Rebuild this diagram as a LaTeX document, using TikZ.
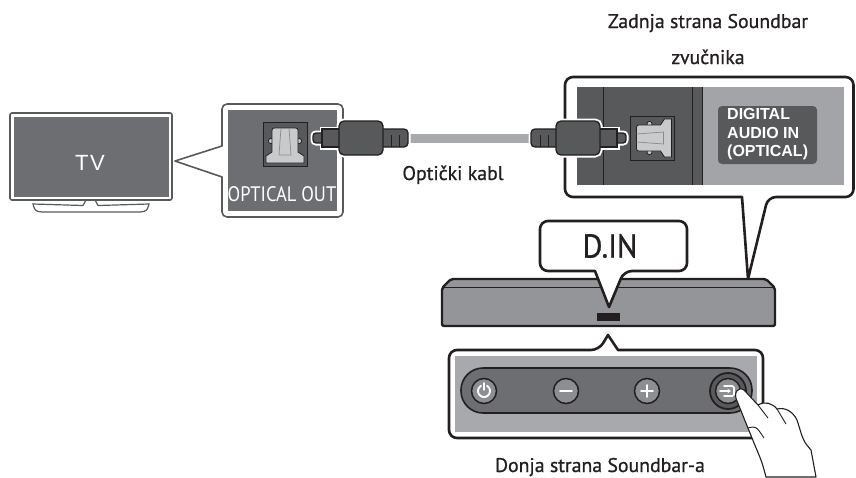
\documentclass[tikz,border=0pt]{standalone}
\usepackage{fontspec}
\setmainfont{PT Sans}
\newfontfamily\capfont{PT Sans}[FakeBold=0.8]
\newfontfamily\dinfont{PT Sans}[FakeBold=1.0, FakeStretch=0.92]
\newfontfamily\arialfont{Liberation Sans}
\newfontfamily\narrowfont{PT Sans}[FakeStretch=0.88]
\usetikzlibrary{calc,arrows.meta}

\definecolor{ink}{HTML}{231F20}
\definecolor{screengrey}{HTML}{6D6E71}
\definecolor{darkgrey}{HTML}{58595B}
\definecolor{bargrey}{HTML}{939598}
\definecolor{lightgrey}{HTML}{A7A9AC}
\definecolor{panelgrey}{HTML}{A2A4A7}
\definecolor{btngrey}{HTML}{8C8E91}
\definecolor{portlight}{HTML}{C9CACC}

% parts of an optical plug, nub at the origin, cable leaving to the right
\newcommand\plugparts[1]{%
  \path[#1, rounded corners=3pt] (0,-5) rectangle (12,5);
  \path[#1] (9,-9) rectangle (27,9);
  \path[#1, rounded corners=4pt] (60,-9) rectangle (95,9);
  \path[#1, rounded corners=5pt] (26,-17) rectangle (70,17);
}

\tikzset{
  callout/.style={draw=ink, line width=2.6pt, fill=white, line join=round},
  thincallout/.style={draw=darkgrey, line width=1.6pt, fill=white, line join=round},
  caption/.style={text=ink, font=\capfont\fontsize{19.8}{24}\selectfont, inner sep=0pt, anchor=base},
  cable/.style={draw=lightgrey, line width=9pt},
  button/.style={fill=btngrey, draw=ink, line width=1.5pt},
  icon/.style={draw=white, line width=1.9pt, line cap=round},
  pics/plug/.style={code={
    \plugparts{draw=white, line width=5pt}
    \plugparts{fill=darkgrey, draw=ink, line width=1.3pt}
    \draw[ink, line width=1pt] (78,-3) -- (78,9) (86,-3) -- (86,9);
  }},
  pics/port/.style={code={
    \filldraw[fill=darkgrey, draw=ink, line width=1pt] (-22,-22) rectangle (22,22);
    \filldraw[fill=portlight, draw=ink, line width=0.8pt]
      (-14,-3) circle (2.6) (14,-3) circle (2.6);
    \filldraw[fill=portlight, draw=ink, line width=0.8pt]
      (-19,19) -- (-19,12) -- (-13,8) -- (-13,-11)
      .. controls (-13,-16) .. (-8,-16) -- (8,-16)
      .. controls (13,-16) .. (13,-11) -- (13,8) -- (19,12) -- (19,19) -- cycle;
    \draw[darkgrey!70, line width=0.7pt] (-4,-16) -- (-6,11) -- (6,11) -- (4,-16);
  }}
}

\begin{document}
\begin{tikzpicture}[x=1pt,y=-1pt]
\useasboundingbox (0,0) rectangle (856,477);

% ---------------- TV ----------------
\draw[darkgrey, line width=1.2pt, fill=white]
  (33,204) .. controls (35,211) .. (42,212) -- (140,212)
  .. controls (147,211) .. (149,204) -- (98,205.5) -- (95,200) -- (86,200) -- (83,205.5) -- cycle;
\draw[draw=darkgrey, line width=1.6pt, fill=white, rounded corners=2pt] (10,113) rectangle (172,200);
\fill[screengrey] (13.5,116.5) rectangle (168.5,196.5);
\node[text=white, font=\arialfont\fontsize{22}{24}\selectfont, inner sep=0pt] (tv) at (90,163) {T\kern1.5pt V};

% ---------------- OPTICAL OUT callout ----------------
\draw[thincallout]
  (222,146) [rounded corners=5pt] -- (222,104) -- (343,104) -- (343,217) -- (222,217)
  [sharp corners] -- (222,177) -- (175,161) -- cycle;
\fill[screengrey] (228,110) rectangle (337,211);
\pic (outport) at (285,144) {port};
\node[text=white, font=\narrowfont\fontsize{21}{24}\selectfont, inner sep=0pt, anchor=base] (outlabel) at (282,201) {OPTICAL OUT};

% ---------------- Soundbar back callout ----------------
\draw[callout, rounded corners=8pt]
  (565,77) -- (853.5,77) -- (853.5,197) -- (768,197) [sharp corners] -- (748,279) -- (742,197)
  [rounded corners=8pt] -- (565,197) -- cycle;
\fill[darkgrey] (577,87) rectangle (702,185);
\fill[panelgrey] (702,87) rectangle (844,185);
\draw[ink, line width=1pt] (603,87) -- (603,185) (692,87) -- (692,185) (702,87) -- (702,185);
\fill[darkgrey, rounded corners=4pt] (718,106) rectangle (817,164);
\node[text=white, font=\arialfont\bfseries\fontsize{16}{18.5}\selectfont, inner sep=0pt,
  anchor=north west, align=left] (inlabel) at (727,108.5) {DIGITAL\\AUDIO IN\\(OPTICAL)};
\pic[rotate=90] (inport) at (652.5,138) {port};

% ---------------- optical cable ----------------
\coordinate (cableL) at (404,138);
\coordinate (cableR) at (536,138);
\draw[cable] (cableL) -- (cableR);
\pic (lplug) at (313,138) {plug};
\pic[xscale=-1] (rplug) at (626,138) {plug};

\node[caption] (cablelabel) at (453,180) {Optički kabl};
\node[caption] (backlabel1) at (708,28) {Zadnja strana Soundbar};
\node[caption] (backlabel2) at (708,64) {zvučnika};

% ---------------- Soundbar ----------------
\draw[fill=bargrey, draw=ink, line width=2.4pt, line join=round, rounded corners=2pt]
  (442,326) -- (442,288) -- (451,279) -- (766,279) -- (775,288) -- (775,326) -- cycle;
\draw[ink, line width=1pt] (443,287) -- (774,287);
\fill[ink] (597,313) rectangle (620,321);

% ---------------- D.IN callout ----------------
\draw[callout, rounded corners=8pt]
  (540,221) -- (687,221) -- (687,271) -- (624,271) [sharp corners] -- (609,307) -- (595,271)
  [rounded corners=8pt] -- (540,271) -- cycle;
\node[text=ink, font=\dinfont\fontsize{33}{36}\selectfont, inner sep=0pt] (din) at (610,246) {D.IN};

% ---------------- bottom button panel ----------------
\draw[callout, rounded corners=8pt]
  (449,350) -- (599,350) [sharp corners] -- (608,335) -- (618,350)
  [rounded corners=8pt] -- (763,350) -- (763,438) -- (449,438) -- cycle;
\fill[lightgrey] (455,356) rectangle (757,432);
\draw[fill=screengrey, draw=ink, line width=1.6pt, rounded corners=22pt] (461,368) rectangle (752,413);

% power
\draw[button] (484,391) circle (12.5);
\draw[icon] (484,391) ++(-60:6) arc (-60:240:6);
\draw[icon] (484,383) -- (484,390);
% minus
\draw[button] (566,391) circle (12.5);
\draw[icon] (560,391) -- (572,391);
% plus
\draw[button] (647,391) circle (12.5);
\draw[icon] (641,391) -- (653,391) (647,385) -- (647,397);
% source
\draw[fill=darkgrey, draw=ink, line width=1.8pt] (728,391) circle (18);
\draw[button] (728,391) circle (12.5);
\draw[icon, line width=1.6pt, rounded corners=1.5pt] (724,386) -- (734,386) -- (734,396) -- (724,396);
\draw[icon, line width=1.6pt, -{Stealth[length=3.5pt,width=4.5pt]}] (720,391) -- (731,391);

% hand pressing the source button
\draw[fill=white, draw=ink, line width=1.1pt, line join=round]
  (766,477) .. controls (762,462) .. (754,443) -- (737,401)
  .. controls (733,393) and (738,386) .. (744,390) -- (758,405)
  .. controls (765,401) and (772,403) .. (777,409)
  .. controls (786,407) and (793,412) .. (797,420)
  -- (802,436) .. controls (805,443) .. (811,450)
  -- (816,477) -- cycle;
\draw[ink, line width=0.9pt] (758,405) .. controls (763,412) .. (768,418)
  (777,409) .. controls (782,416) .. (786,424)
  (748,428) .. controls (756,426) .. (764,438);

% ---------------- captions ----------------
\node[caption] (bottomlabel) at (600,472) {Donja strana Soundbar-a};
\end{tikzpicture}
\end{document}
